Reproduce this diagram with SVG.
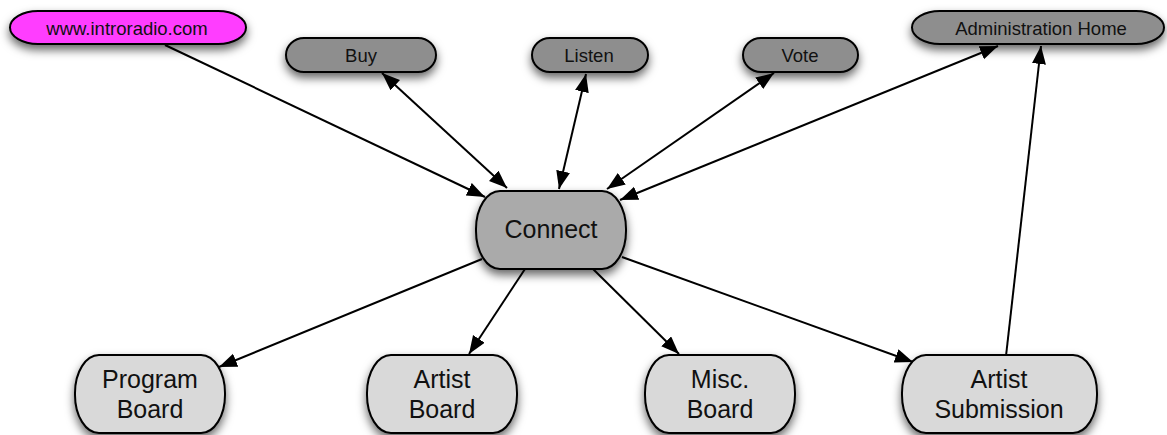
<svg xmlns="http://www.w3.org/2000/svg" width="1167" height="435" viewBox="0 0 1167 435">
<style>
.n{stroke:#000;stroke-width:2}
.top{fill:#8e8e8e}
.mid{fill:#aaaaaa}
.bot{fill:#d9d9d9}
.web{fill:#ff3dff}
text{font-family:"Liberation Sans",Arial,sans-serif;fill:#111;text-anchor:middle}
.s{font-size:18.5px}
.l{font-size:25px}
.e{stroke:#000;stroke-width:2;fill:none}
.one{marker-end:url(#ah)}
.two{marker-end:url(#ah);marker-start:url(#ah)}
</style>
<defs>
<filter id="sh" x="-20%" y="-30%" width="140%" height="190%">
<feDropShadow dx="0" dy="5" stdDeviation="5" flood-color="#000" flood-opacity="0.6"/>
</filter>
<marker id="ah" markerUnits="userSpaceOnUse" markerWidth="19" markerHeight="15" refX="18" refY="7" orient="auto-start-reverse">
<path d="M0,0 L18,7 L0,14 z" fill="#000"/>
</marker>
</defs>
<g id="connectors">
<line class="e one" x1="165" y1="45" x2="485" y2="197"/>
<line class="e two" x1="382" y1="73" x2="507" y2="188"/>
<line class="e two" x1="586" y1="74" x2="559" y2="189"/>
<line class="e two" x1="774" y1="73" x2="607" y2="189"/>
<line class="e two" x1="998" y1="46" x2="620" y2="200"/>
<line class="e one" x1="1006" y1="356" x2="1041" y2="46"/>
<line class="e one" x1="482" y1="259" x2="219" y2="367"/>
<line class="e one" x1="525" y1="269" x2="469" y2="354"/>
<line class="e one" x1="592" y1="268" x2="679" y2="354"/>
<line class="e one" x1="622" y1="257" x2="913" y2="362"/>
</g>
<g id="node-www">
<rect class="n web" x="10" y="11" width="236" height="33" rx="28" ry="16.5" filter="url(#sh)"/>
<text class="s" x="127" y="35">www.introradio.com</text>
</g>
<g id="node-buy">
<rect class="n top" x="286" y="38" width="150" height="34" rx="18" ry="17" filter="url(#sh)"/>
<text class="s" x="361" y="62">Buy</text>
</g>
<g id="node-listen">
<rect class="n top" x="532" y="38" width="116" height="34" rx="18" ry="17" filter="url(#sh)"/>
<text class="s" x="589" y="62">Listen</text>
</g>
<g id="node-vote">
<rect class="n top" x="743" y="38" width="115" height="34" rx="18" ry="17" filter="url(#sh)"/>
<text class="s" x="800" y="62">Vote</text>
</g>
<g id="node-admin">
<rect class="n top" x="912" y="11" width="252" height="33" rx="28" ry="16.5" filter="url(#sh)"/>
<text class="s" x="1041" y="35">Administration Home</text>
</g>
<g id="node-connect">
<rect class="n mid" x="476" y="191" width="150" height="78" rx="24" ry="38" filter="url(#sh)"/>
<text class="l" x="551" y="238">Connect</text>
</g>
<g id="node-program">
<rect class="n bot" x="75" y="355" width="150" height="78" rx="24" ry="38" filter="url(#sh)"/>
<text class="l" x="150" y="388">Program</text>
<text class="l" x="150" y="418">Board</text>
</g>
<g id="node-artist">
<rect class="n bot" x="367" y="355" width="150" height="78" rx="24" ry="38" filter="url(#sh)"/>
<text class="l" x="442" y="388">Artist</text>
<text class="l" x="442" y="418">Board</text>
</g>
<g id="node-misc">
<rect class="n bot" x="645" y="355" width="150" height="78" rx="24" ry="38" filter="url(#sh)"/>
<text class="l" x="720" y="388">Misc.</text>
<text class="l" x="720" y="418">Board</text>
</g>
<g id="node-submission">
<rect class="n bot" x="902" y="355" width="195" height="78" rx="24" ry="38" filter="url(#sh)"/>
<text class="l" x="999" y="388">Artist</text>
<text class="l" x="999" y="418">Submission</text>
</g>
</svg>
